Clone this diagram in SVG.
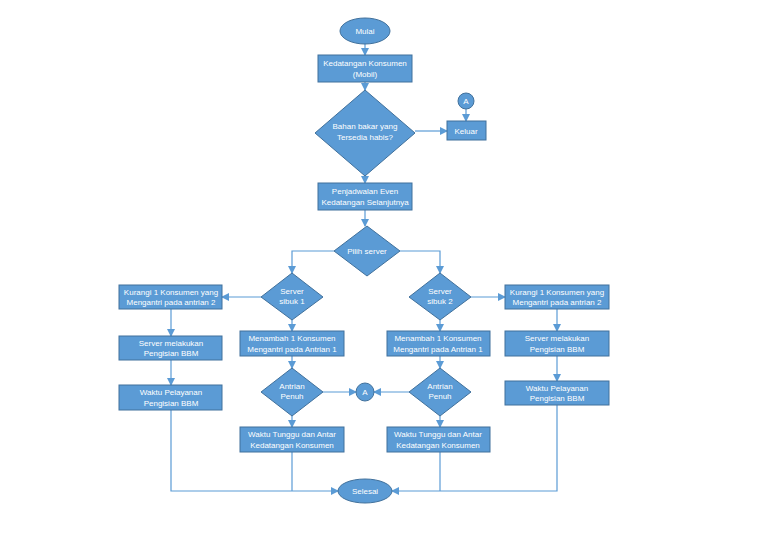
<svg xmlns="http://www.w3.org/2000/svg" width="768" height="543" viewBox="0 0 768 543">
<style>
.s{fill:#5b9bd5;stroke:#41719c;stroke-width:1}
.t{font-family:"Liberation Sans",Arial,sans-serif;font-size:8px;fill:#fff;text-anchor:middle}
.c{fill:none;stroke:#5b9bd5;stroke-width:1.2;marker-end:url(#ar)}
.l{fill:none;stroke:#5b9bd5;stroke-width:1.2}
</style>
<defs><marker id="ar" markerWidth="8" markerHeight="8" refX="7" refY="4" orient="auto" markerUnits="userSpaceOnUse"><path d="M0,0L8,4L0,8z" fill="#5b9bd5"/></marker></defs>
<rect width="768" height="543" fill="#fff"/>
<g id="connectors">
<path class="c" d="M365,44V55"/>
<path class="c" d="M365,82V90"/>
<path class="c" d="M415,131H447"/>
<path class="c" d="M466,109V121"/>
<path class="c" d="M365,176V183"/>
<path class="c" d="M365,210V226"/>
<path class="c" d="M334,251H292V273"/>
<path class="c" d="M400,251H440V273"/>
<path class="c" d="M261,297H222"/>
<path class="c" d="M471,297H505"/>
<path class="c" d="M292,320V331"/>
<path class="c" d="M440,320V331"/>
<path class="c" d="M171,309V336"/>
<path class="c" d="M557,309V331"/>
<path class="c" d="M171,360V385"/>
<path class="c" d="M557,356V381"/>
<path class="c" d="M292,356V368"/>
<path class="c" d="M440,356V368"/>
<path class="c" d="M323,392H356"/>
<path class="c" d="M409,392H374"/>
<path class="c" d="M292,416V427"/>
<path class="c" d="M440,416V427"/>
<path class="c" d="M171,410V491H338"/>
<path class="l" d="M292,452V491"/>
<path class="c" d="M557,405V491H392"/>
<path class="l" d="M440,452V491"/>
</g>
<g id="mulai"><ellipse class="s" cx="365" cy="31" rx="25" ry="13"/><text class="t" x="365" y="34">Mulai</text></g>
<g id="kedatangan"><rect class="s" x="318" y="55" width="94" height="27"/><text class="t" x="365" y="66">Kedatangan Konsumen</text><text class="t" x="365" y="77">(Mobil)</text></g>
<g id="bahan"><path class="s" d="M365,90L415,133L365,176L315,133z"/><text class="t" x="365" y="129">Bahan bakar yang</text><text class="t" x="365" y="140">Tersedia habis?</text></g>
<g id="a1"><circle class="s" cx="466" cy="101" r="8"/><text class="t" x="466" y="104">A</text></g>
<g id="keluar"><rect class="s" x="447" y="121" width="39" height="19"/><text class="t" x="466" y="134">Keluar</text></g>
<g id="penjadwalan"><rect class="s" x="318" y="183" width="94" height="27"/><text class="t" x="365" y="194">Penjadwalan Even</text><text class="t" x="365" y="205">Kedatangan Selanjutnya</text></g>
<g id="pilih"><path class="s" d="M367,226L400,251L367,276L334,251z"/><text class="t" x="367" y="254">Pilih server</text></g>
<g id="sibuk1"><path class="s" d="M292,273L323,297L292,320L261,297z"/><text class="t" x="292" y="294">Server</text><text class="t" x="292" y="304">sibuk 1</text></g>
<g id="sibuk2"><path class="s" d="M440,273L471,297L440,320L409,297z"/><text class="t" x="440" y="294">Server</text><text class="t" x="440" y="304">sibuk 2</text></g>
<g id="kurangi1"><rect class="s" x="119" y="285" width="103" height="24"/><text class="t" x="171" y="295">Kurangi 1 Konsumen yang</text><text class="t" x="171" y="305">Mengantri pada antrian 2</text></g>
<g id="kurangi2"><rect class="s" x="505" y="285" width="104" height="24"/><text class="t" x="557" y="295">Kurangi 1 Konsumen yang</text><text class="t" x="557" y="305">Mengantri pada antrian 2</text></g>
<g id="menambah1"><rect class="s" x="240" y="331" width="104" height="25"/><text class="t" x="292" y="341">Menambah 1 Konsumen</text><text class="t" x="292" y="352">Mengantri pada Antrian 1</text></g>
<g id="menambah2"><rect class="s" x="387" y="331" width="103" height="25"/><text class="t" x="438" y="341">Menambah 1 Konsumen</text><text class="t" x="438" y="352">Mengantri pada Antrian 1</text></g>
<g id="server1"><rect class="s" x="119" y="336" width="103" height="24"/><text class="t" x="171" y="346">Server melakukan</text><text class="t" x="171" y="356">Pengisian BBM</text></g>
<g id="server2"><rect class="s" x="505" y="331" width="104" height="25"/><text class="t" x="557" y="341">Server melakukan</text><text class="t" x="557" y="352">Pengisian BBM</text></g>
<g id="pelayanan1"><rect class="s" x="119" y="385" width="103" height="25"/><text class="t" x="171" y="395">Waktu Pelayanan</text><text class="t" x="171" y="406">Pengisian BBM</text></g>
<g id="pelayanan2"><rect class="s" x="505" y="381" width="104" height="24"/><text class="t" x="557" y="391">Waktu Pelayanan</text><text class="t" x="557" y="401">Pengisian BBM</text></g>
<g id="penuh1"><path class="s" d="M292,368L323,392L292,416L261,392z"/><text class="t" x="292" y="389">Antrian</text><text class="t" x="292" y="399">Penuh</text></g>
<g id="penuh2"><path class="s" d="M440,368L471,392L440,416L409,392z"/><text class="t" x="440" y="389">Antrian</text><text class="t" x="440" y="399">Penuh</text></g>
<g id="a2"><circle class="s" cx="365" cy="392" r="9"/><text class="t" x="365" y="395">A</text></g>
<g id="tunggu1"><rect class="s" x="240" y="427" width="104" height="25"/><text class="t" x="292" y="437">Waktu Tunggu dan Antar</text><text class="t" x="292" y="448">Kedatangan Konsumen</text></g>
<g id="tunggu2"><rect class="s" x="387" y="427" width="103" height="25"/><text class="t" x="438" y="437">Waktu Tunggu dan Antar</text><text class="t" x="438" y="448">Kedatangan Konsumen</text></g>
<g id="selesai"><ellipse class="s" cx="365" cy="491" rx="27" ry="12"/><text class="t" x="365" y="494">Selesai</text></g>
</svg>
